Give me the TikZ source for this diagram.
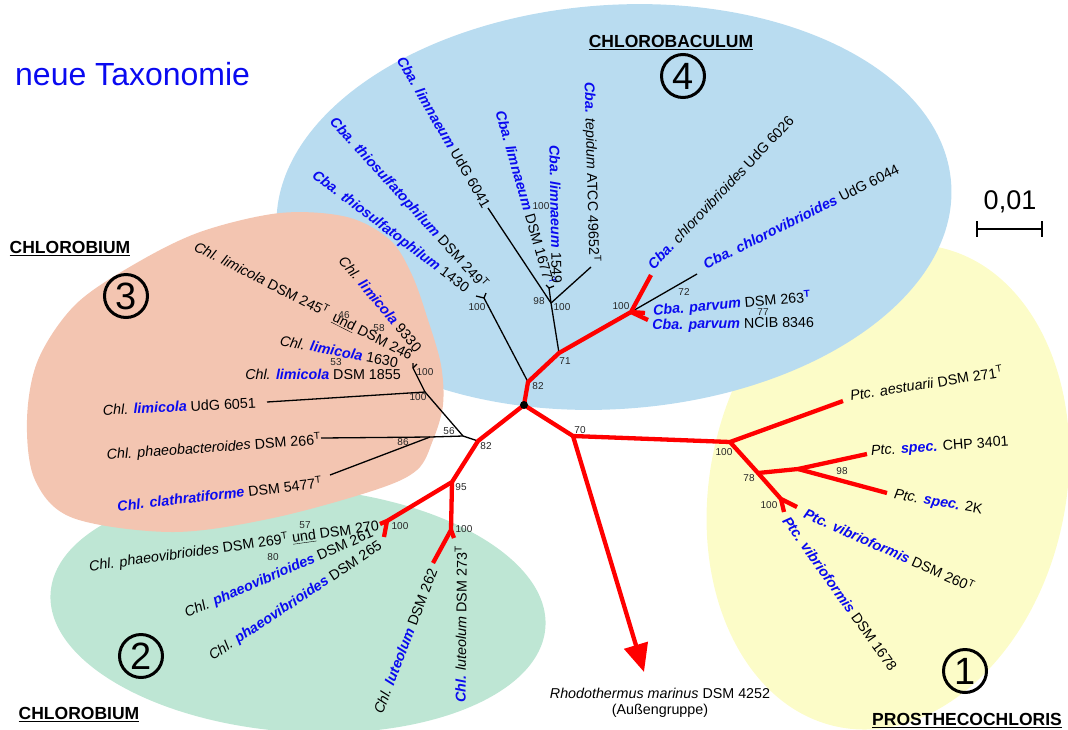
\documentclass[tikz,border=0pt]{standalone}
\usepackage{fontspec}
\setmainfont{Liberation Sans}
\usetikzlibrary{arrows.meta}
\definecolor{tb}{RGB}{10,10,240}
\definecolor{bgblue}{RGB}{185,220,240}
\definecolor{bgsalmon}{RGB}{243,197,177}
\definecolor{bggreen}{RGB}{190,230,212}
\definecolor{bgyellow}{RGB}{252,252,200}
\definecolor{tred}{RGB}{255,0,0}
\newcommand\bbi[1]{\textcolor{tb}{\textbf{\textit{#1}}}}
\begin{document}
\begin{tikzpicture}[x=1pt,y=-1pt,
  lbl/.style={font=\fontsize{14.3}{16}\selectfont, inner sep=0pt},
  bs/.style={font=\fontsize{10}{12}\selectfont, inner sep=0pt, text=black!85},
  redbr/.style={draw=tred, line width=4.3pt, line join=round},
  blkbr/.style={draw=black, line width=1.3pt, line join=round},
  genus/.style={font=\fontsize{17.5}{20}\selectfont\bfseries, inner sep=0pt},
  circnum/.style={circle, draw, line width=3pt, minimum size=43pt, inner sep=0pt, font=\fontsize{38}{38}\selectfont}
]
\useasboundingbox (0,0) rectangle (1068,729);

% background regions
\fill[bgyellow, rotate around={-12:(888,487)}] (888,487) ellipse (178 and 245);
\fill[bggreen, rotate around={-4:(298,610)}] (298,610) ellipse (248 and 122);
\fill[bgblue, rotate around={4:(614,207)}] (614,207) ellipse (338 and 202);
\fill[bgsalmon] plot[smooth cycle, tension=0.55] coordinates {
 (27,420) (38,360) (75,305) (133,265) (200,232) (280,213) (347,217) (390,240)
 (412,275) (428,320) (441,365) (443,405) (433,440) (417,470) (375,490)
 (273,518) (173,532) (73,518) (35,480)};

% tree coordinates
\coordinate (root) at (524,405);
\coordinate (n82u) at (528,382);
\coordinate (n71) at (559,353);
\coordinate (n100p) at (631,312);
\coordinate (t6026) at (651,275);
\coordinate (t263) at (645,313);
\coordinate (t8346) at (648,320);
\coordinate (t6044) at (697,274);
\coordinate (n98) at (551,303);
\coordinate (t6041) at (488,208);
\coordinate (n100l) at (549,288);
\coordinate (t1677) at (546,285);
\coordinate (t1549) at (554,286);
\coordinate (t49652) at (591,267);
\coordinate (n100t) at (484,298);
\coordinate (t1430) at (476,296);
\coordinate (t249) at (486,293);
\coordinate (n82l) at (478,441);
\coordinate (n56) at (463,436);
\coordinate (n86) at (430,437);
\coordinate (t266) at (321,438);
\coordinate (t5477) at (330,475);
\coordinate (n100s) at (425,392);
\coordinate (t6051) at (267,402);
\coordinate (n100c) at (413,368);
\coordinate (tc1) at (413,363);
\coordinate (tc2) at (417,364);
\coordinate (n95) at (452,482);
\coordinate (ng1) at (387,521);
\coordinate (t270) at (380,524);
\coordinate (t261) at (384,537);
\coordinate (ng2) at (451,530);
\coordinate (t262) at (433,563);
\coordinate (t273) at (454,538);
\coordinate (n70) at (573,436);
\coordinate (rho) at (644,672);
\coordinate (ny100) at (730,442);
\coordinate (t271) at (843,401);
\coordinate (n78) at (758,473);
\coordinate (n98y) at (798,469);
\coordinate (t3401) at (867,454);
\coordinate (t2k) at (887,493);
\coordinate (nv100) at (781,499);
\coordinate (t260) at (797,507);
\coordinate (t1678) at (784,512);

% black branches
\draw[blkbr] (n82u) -- (n100t);
\draw[blkbr] (t1430) -- (n100t) -- (t249);
\draw[blkbr] (n71) -- (n98) -- (t6041);
\draw[blkbr] (n98) -- (n100l);
\draw[blkbr] (t1677) -- (n100l) -- (t1549);
\draw[blkbr] (n98) -- (t49652);
\draw[blkbr] (n100p) -- (t6044);
\draw[blkbr] (n82l) -- (n56) -- (n86) -- (t266);
\draw[blkbr] (n86) -- (t5477);
\draw[blkbr] (n56) -- (n100s) -- (t6051);
\draw[blkbr] (n100s) -- (n100c) -- (tc1);
\draw[blkbr] (n100c) -- (tc2);

% red branches
\draw[redbr] (root) -- (n82u) -- (n71) -- (n100p) -- (t6026);
\draw[redbr] (n100p) -- (t263);
\draw[redbr] (n100p) -- (t8346);
\draw[redbr] (root) -- (n82l) -- (n95) -- (ng1) -- (t270);
\draw[redbr] (ng1) -- (t261);
\draw[redbr] (n95) -- (ng2) -- (t262);
\draw[redbr] (ng2) -- (t273);
\draw[redbr] (root) -- (n70) -- (ny100) -- (t271);
\draw[redbr] (ny100) -- (n78) -- (n98y) -- (t3401);
\draw[redbr] (n98y) -- (t2k);
\draw[redbr] (n78) -- (nv100) -- (t260);
\draw[redbr] (nv100) -- (t1678);
\draw[redbr, -{Triangle[length=28pt,width=24pt]}] (n70) -- (rho);
\fill (root) circle (4);

% Chlorobaculum labels
\node[lbl, anchor=east, rotate=-60] (l6041) at (487,207) {\bbi{Cba. limnaeum} UdG 6041};
\node[lbl, anchor=east, rotate=-74] (l1677) at (551,285) {\bbi{Cba. limnaeum} DSM 1677\textcolor{tb}{\textsuperscript{T}}};
\node[lbl, anchor=east, rotate=-89] (l1549) at (557,284) {\bbi{Cba. limnaeum} 1549};
\node[lbl, anchor=east, rotate=-47.7] (l249) at (485,287) {\bbi{Cba. thiosulfatophilum} DSM 249\textsuperscript{T}};
\node[lbl, anchor=east, rotate=-37] (l1430) at (467,290) {\bbi{Cba. thiosulfatophilum} 1430};
\node[lbl, anchor=east, rotate=-88.5] (l49652) at (594,262) {\bbi{Cba.} \textit{tepidum} ATCC 49652\textsuperscript{T}};
\node[lbl, anchor=west, rotate=46.5] (l6026) at (650,267) {\bbi{Cba.} \textit{chlorovibrioides} UdG 6026};
\node[lbl, anchor=west, rotate=26.5] (l6044) at (704,265) {\bbi{Cba. chlorovibrioides} UdG 6044};
\node[lbl, anchor=west, rotate=5] (l263) at (653,311) {\bbi{Cba. parvum} DSM 263\textcolor{tb}{\textsuperscript{\textbf{T}}}};
\node[lbl, anchor=west, rotate=1] (l8346) at (652,326) {\bbi{Cba. parvum} NCIB 8346};

% Chlorobium (3) labels
\node[lbl, anchor=east, rotate=-27] (l245) at (412,356) {\textit{Chl. limicola} DSM 245\textsuperscript{T}\hspace{7pt}\underline{und} DSM 246};
\node[lbl, anchor=east, rotate=-50] (l9330) at (419,350) {\textit{Chl.} \bbi{limicola} 9330};
\node[lbl, anchor=east, rotate=-11] (l1630) at (398,363) {\textit{Chl.} \bbi{limicola} 1630};
\node[lbl, anchor=east, rotate=0] (l1855) at (401,374) {\textit{Chl.} \bbi{limicola} DSM 1855};
\node[lbl, anchor=east, rotate=2.7] (l6051) at (256,403) {\textit{Chl.} \bbi{limicola} UdG 6051};
\node[lbl, anchor=east, rotate=4] (l266) at (321,440) {\textit{Chl. phaeobacteroides} DSM 266\textsuperscript{T}};
\node[lbl, anchor=east, rotate=6.5] (l5477) at (322,482) {\bbi{Chl. clathratiforme} DSM 5477\textsuperscript{T}};

% Chlorobium (2) labels
\node[lbl, anchor=east, rotate=8] (l270) at (379,526) {\textit{Chl. phaeovibrioides} DSM 269\textsuperscript{T} \underline{und} DSM 270};
\node[lbl, anchor=east, rotate=23.5] (l261) at (373,533) {\textit{Chl.} \bbi{phaeovibrioides} DSM 261};
\node[lbl, anchor=east, rotate=33.5] (l265) at (381,545) {\textit{Chl.} \bbi{phaeovibrioides} DSM 265};
\node[lbl, anchor=east, rotate=69] (l262) at (433,569) {\textit{Chl.} \bbi{luteolum} DSM 262};
\node[lbl, anchor=east, rotate=89.5] (l273) at (461,546) {\bbi{Chl.} \textit{luteolum} DSM 273\textsuperscript{T}};

% Prosthecochloris labels
\node[lbl, anchor=west, rotate=9] (l271) at (850,395) {\textit{Ptc. aestuarii} DSM 271\textsuperscript{T}};
\node[lbl, anchor=west, rotate=4] (l3401) at (871,452) {\textit{Ptc.} \bbi{spec.} CHP 3401};
\node[lbl, anchor=west, rotate=-10] (l2k) at (894,495) {\textit{Ptc.} \bbi{spec.} 2K};
\node[lbl, anchor=west, rotate=-24] (l260) at (805,512) {\bbi{Ptc. vibrioformis} DSM 260\textsuperscript{T}};
\node[lbl, anchor=west, rotate=-54.5] (l1678) at (786,518) {\bbi{Ptc. vibrioformis} DSM 1678};

% outgroup
\node[lbl, align=center, font=\fontsize{14.3}{15.5}\selectfont] (lrho) at (660,703) {\textit{Rhodothermus marinus} DSM 4252\\(Außengruppe)};

% bootstrap values
\node[bs] (b1) at (477,307) {100};
\node[bs] (b2) at (539,301) {98};
\node[bs] (b3) at (562,307) {100};
\node[bs] (b4) at (541,206) {100};
\node[bs] (b5) at (565,361) {71};
\node[bs] (b6) at (538,386) {82};
\node[bs] (b7) at (621,306) {100};
\node[bs] (b8) at (684,292) {72};
\node[bs] (b9) at (763,312) {77};
\node[bs] (b10) at (580,430) {70};
\node[bs] (b11) at (486,446) {82};
\node[bs] (b12) at (449,431) {56};
\node[bs] (b13) at (403,442) {86};
\node[bs] (b14) at (425,372) {100};
\node[bs] (b15) at (418,397) {100};
\node[bs] (b16) at (344,315) {46};
\node[bs] (b17) at (379,328) {58};
\node[bs] (b18) at (336,362) {53};
\node[bs] (b19) at (461,487) {95};
\node[bs] (b20) at (400,526) {100};
\node[bs] (b21) at (464,529) {100};
\node[bs] (b22) at (305,525) {57};
\node[bs] (b23) at (273,557) {80};
\node[bs] (b24) at (724,452) {100};
\node[bs] (b25) at (749,478) {78};
\node[bs] (b26) at (842,471) {98};
\node[bs] (b27) at (769,505) {100};

% genus titles
\node[genus, anchor=base] (gcba) at (671,47) {CHLOROBACULUM};
\draw[line width=1.4pt] ([yshift=-2.5pt]gcba.base west) -- ([yshift=-2.5pt]gcba.base east);
\node[genus, anchor=base] (gchl3) at (70,253) {CHLOROBIUM};
\draw[line width=1.4pt] ([yshift=-2.5pt]gchl3.base west) -- ([yshift=-2.5pt]gchl3.base east);
\node[genus, anchor=base] (gchl2) at (79,719) {CHLOROBIUM};
\draw[line width=1.4pt] ([yshift=-2.5pt]gchl2.base west) -- ([yshift=-2.5pt]gchl2.base east);
\node[genus, anchor=base] (gptc) at (967,725) {PROSTHECOCHLORIS};
\draw[line width=1.4pt] ([yshift=-2.5pt]gptc.base west) -- ([yshift=-2.5pt]gptc.base east);

% circled numbers
\node[circnum] (c1) at (965,671) {1};
\node[circnum] (c2) at (141,656) {2};
\node[circnum] (c3) at (126,296) {3};
\node[circnum] (c4) at (683,76) {4};

% title
\node[anchor=base west, inner sep=0pt, text=tb, font=\fontsize{32}{36}\selectfont] (title) at (15,85) {neue Taxonomie};

% scale bar
\coordinate (sb1) at (977,229);
\coordinate (sb2) at (1042,229);
\coordinate (sb1a) at (977,221);
\coordinate (sb1b) at (977,237);
\coordinate (sb2a) at (1042,221);
\coordinate (sb2b) at (1042,237);
\draw[line width=2pt] (sb1) -- (sb2);
\draw[line width=2pt] (sb1a) -- (sb1b);
\draw[line width=2pt] (sb2a) -- (sb2b);
\node[inner sep=0pt, font=\fontsize{27}{30}\selectfont] (scale) at (1010,202) {0,01};
\end{tikzpicture}
\end{document}
